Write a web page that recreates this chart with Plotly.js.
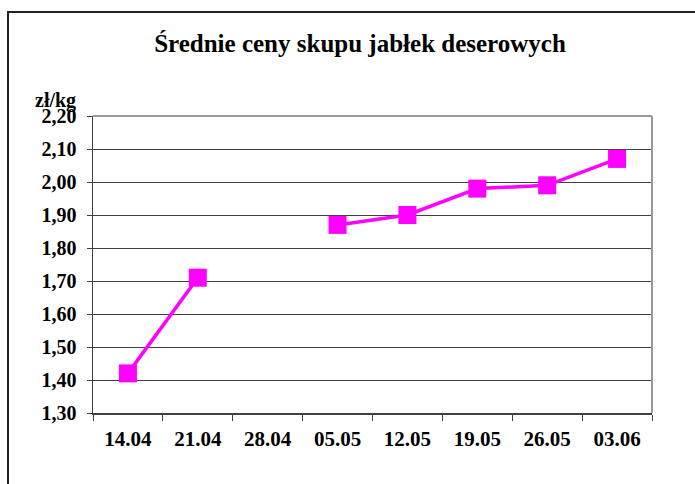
<!DOCTYPE html>
<html>
<head>
<meta charset="utf-8">
<script src="https://cdn.plot.ly/plotly-3.0.1.min.js"></script>
<style>
html,body{margin:0;padding:0;background:#fff;}
#chart{width:695px;height:484px;}
</style>
</head>
<body>
<div id="chart"></div>
<script>
const categories = ["14.04","21.04","28.04","05.05","12.05","19.05","26.05","03.06"];
const prices = [1.42, 1.71, null, 1.87, 1.90, 1.98, 1.99, 2.07];
const yTickValues = [1.30,1.40,1.50,1.60,1.70,1.80,1.90,2.00,2.10,2.20];
const yTickLabels = ["1,30","1,40","1,50","1,60","1,70","1,80","1,90","2,00","2,10","2,20"];
const titleText = "Średnie ceny skupu jabłek deserowych";
const unitLabel = "zł/kg";

const L = 93, R = 43, T = 116, B = 71;
const W = 695, H = 484;
const pw = W - L - R, ph = H - T - B;
const fnt = "'Liberation Serif', 'DejaVu Serif', serif";

const trace = {
  x: categories, y: prices, type: "scatter", mode: "lines+markers",
  connectgaps: false,
  line: {color: "#ff00ff", width: 3.5},
  marker: {symbol: "square", size: 18, color: "#ff00ff"},
  hoverinfo: "skip"
};

const layout = {
  width: W, height: H,
  margin: {l: L, r: R, t: T, b: B, pad: 0},
  paper_bgcolor: "#ffffff", plot_bgcolor: "#ffffff",
  showlegend: false,
  title: {text: "<b>" + titleText + "</b>", font: {family: fnt, size: 25, color: "#000"}, xref: "container", x: 360/W, xanchor: "center", yref: "container", y: 1 - 43/H, yanchor: "middle"},
  xaxis: {
    type: "category", range: [-0.5, 7.5],
    showgrid: false, zeroline: false,
    showline: true, linecolor: "#404040", linewidth: 1.5,
    ticks: "outside", ticklen: 6, tickcolor: "#404040", tickwidth: 1,
    tickson: "boundaries",
    tickfont: {family: fnt, size: 21, color: "#000", weight: "bold"},
    ticklabelstandoff: 6,
    fixedrange: true
  },
  yaxis: {
    range: [1.30, 2.20], tickvals: yTickValues, ticktext: yTickLabels,
    showgrid: true, gridcolor: "#404040", gridwidth: 1,
    zeroline: false,
    showline: true, linecolor: "#404040", linewidth: 1.5,
    ticks: "outside", ticklen: 5, tickcolor: "#404040", tickwidth: 1,
    tickfont: {family: fnt, size: 20, color: "#000", weight: "bold"},
    ticklabelstandoff: 6,
    fixedrange: true
  },
  shapes: [
    {type: "line", xref: "paper", yref: "paper", x0: 0, x1: 1, y0: 1, y1: 1, line: {color: "#999", width: 2}},
    {type: "line", xref: "paper", yref: "paper", x0: 1, x1: 1, y0: 0, y1: 1, line: {color: "#999", width: 2}},
    {type: "rect", xref: "paper", yref: "paper",
     x0: (8 - L)/pw, x1: (720 - L)/pw, y0: (T + ph - 500)/ph, y1: (T + ph - 12)/ph,
     line: {color: "#222", width: 2}, fillcolor: "rgba(0,0,0,0)", layer: "below"}
  ],
  annotations: [
    {text: "<b>" + unitLabel + "</b>", xref: "paper", yref: "paper", x: (55 - L)/pw, y: (T + ph - 101)/ph,
     xanchor: "center", yanchor: "middle", showarrow: false, font: {family: fnt, size: 20, color: "#000"}}
  ]
};

Plotly.newPlot("chart", [trace], layout, {displayModeBar: false, staticPlot: true});
</script>
</body>
</html>
